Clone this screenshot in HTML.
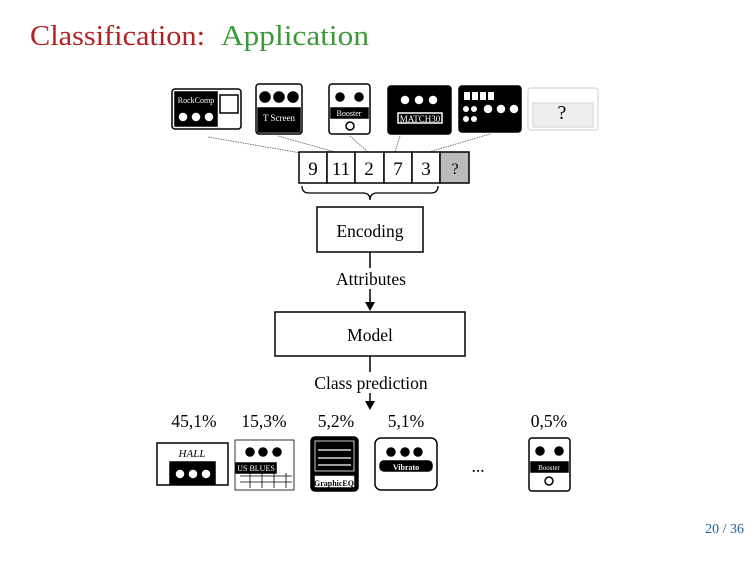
<!DOCTYPE html><html><head><meta charset="utf-8"><style>
html,body{margin:0;padding:0;background:#fff;width:756px;height:567px;overflow:hidden}
svg{display:block}
text{font-family:"Liberation Serif",serif}
</style></head><body>
<svg width="756" height="567" viewBox="0 0 756 567" xmlns="http://www.w3.org/2000/svg">
<text x="30" y="45" font-size="29" fill="#b22222" textLength="175" lengthAdjust="spacingAndGlyphs">Classification:</text>
<text x="221" y="45" font-size="29" fill="#3a9a3a" textLength="148" lengthAdjust="spacingAndGlyphs">Application</text>

<!-- top pedals -->
<g stroke="#000" stroke-width="1.5">
 <rect x="172" y="89" width="69" height="40" rx="3" fill="#fff"/>
 <rect x="175" y="92" width="42" height="34" fill="#000"/>
 <rect x="220" y="95" width="18" height="18" fill="#fff"/>
 <circle cx="183" cy="117" r="5" fill="#fff"/><circle cx="196" cy="117" r="5" fill="#fff"/><circle cx="209" cy="117" r="5" fill="#fff"/>
 <rect x="256" y="84" width="46" height="50" rx="3" fill="#fff"/>
 <rect x="258" y="108" width="42" height="24" fill="#000"/>
 <circle cx="265" cy="97" r="5" fill="#000"/><circle cx="279" cy="97" r="5" fill="#000"/><circle cx="293" cy="97" r="5" fill="#000"/>
 <rect x="329" y="84" width="41" height="50" rx="3" fill="#fff"/>
 <rect x="331" y="108" width="37" height="10" fill="#000"/>
 <circle cx="340" cy="97" r="4" fill="#000"/><circle cx="359" cy="97" r="4" fill="#000"/><circle cx="350" cy="126" r="4" fill="#fff"/>
 <rect x="388" y="86" width="63" height="48" rx="3" fill="#000"/>
 <circle cx="405" cy="100" r="5" fill="#fff"/><circle cx="419" cy="100" r="5" fill="#fff"/><circle cx="433" cy="100" r="5" fill="#fff"/>
 <rect x="398" y="113" width="44" height="10" fill="#000" stroke="#fff"/>
 <rect x="459" y="86" width="62" height="46" rx="3" fill="#000"/>
 <circle cx="488" cy="109" r="5" fill="#fff"/><circle cx="501" cy="109" r="5" fill="#fff"/><circle cx="514" cy="109" r="5" fill="#fff"/>
</g>
<g fill="#fff">
 <rect x="464" y="92" width="6" height="8"/><rect x="472" y="92" width="6" height="8"/><rect x="480" y="92" width="6" height="8"/><rect x="488" y="92" width="6" height="8"/>
 <circle cx="466" cy="109" r="3"/><circle cx="474" cy="109" r="3"/><circle cx="466" cy="119" r="3"/><circle cx="474" cy="119" r="3"/>
</g>
<g stroke="#ddd" stroke-width="1.5" fill="#fff">
 <rect x="528" y="88" width="70" height="42" rx="3"/>
 <rect x="533" y="103" width="60" height="24" fill="#eee"/>
</g>
<text x="562" y="119" font-size="20" text-anchor="middle">?</text>
<text x="196" y="103" font-size="8" fill="#fff" text-anchor="middle" font-family="Liberation Sans">RockComp</text>
<text x="279" y="121" font-size="9" fill="#fff" text-anchor="middle" font-family="Liberation Sans">T Screen</text>
<text x="349" y="116" font-size="8" fill="#fff" text-anchor="middle" font-family="Liberation Sans">Booster</text>
<text x="420" y="122" font-size="9" fill="#fff" text-anchor="middle" font-family="Liberation Sans">MATCH30</text>

<!-- connector lines -->
<g stroke="#555" stroke-width="0.8" stroke-dasharray="1.5,1">
 <line x1="208" y1="137" x2="301" y2="153"/>
 <line x1="278" y1="136" x2="335" y2="152"/>
 <line x1="350" y1="136" x2="368" y2="152"/>
 <line x1="400" y1="136" x2="395" y2="152"/>
 <line x1="490" y1="134" x2="429" y2="152"/>
</g>

<!-- cells -->
<g stroke="#000" stroke-width="1.5" fill="#fff">
 <rect x="299" y="152" width="28" height="31"/>
 <rect x="327" y="152" width="28" height="31"/>
 <rect x="355" y="152" width="29" height="31"/>
 <rect x="384" y="152" width="28" height="31"/>
 <rect x="412" y="152" width="28" height="31"/>
 <rect x="440" y="152" width="29" height="31" fill="#bbb"/>
</g>
<g font-size="19" text-anchor="middle">
 <text x="313" y="175">9</text><text x="341" y="175">11</text><text x="369" y="175">2</text>
 <text x="398" y="175">7</text><text x="426" y="175">3</text><text x="455" y="174" font-size="16">?</text>
</g>
<path d="M302 186 Q302 193 309 193 L363 193 Q370 193 370 200 Q370 193 377 193 L431 193 Q438 193 438 186" fill="none" stroke="#000" stroke-width="1.3"/>

<rect x="317" y="207" width="106" height="45" fill="#fff" stroke="#000" stroke-width="1.5"/>
<text x="370" y="237" font-size="17.5" text-anchor="middle">Encoding</text>
<line x1="370" y1="252" x2="370" y2="268" stroke="#000" stroke-width="1.5"/>
<text x="371" y="285" font-size="17.5" text-anchor="middle">Attributes</text>
<line x1="370" y1="289" x2="370" y2="305" stroke="#000" stroke-width="1.5"/>
<path d="M365 302 L370 311 L375 302 Z" fill="#000"/>

<rect x="275" y="312" width="190" height="44" fill="#fff" stroke="#000" stroke-width="1.5"/>
<text x="370" y="341" font-size="17.5" text-anchor="middle">Model</text>
<line x1="370" y1="356" x2="370" y2="372" stroke="#000" stroke-width="1.5"/>
<text x="371" y="389" font-size="17.5" text-anchor="middle">Class prediction</text>
<line x1="370" y1="393" x2="370" y2="404" stroke="#000" stroke-width="1.5"/>
<path d="M365 401 L370 410 L375 401 Z" fill="#000"/>

<g font-size="17.5" text-anchor="middle">
 <text x="194" y="427">45,1%</text><text x="264" y="427">15,3%</text>
 <text x="336" y="427">5,2%</text><text x="406" y="427">5,1%</text>
 <text x="549" y="427">0,5%</text>
 <text x="478" y="472">...</text>
</g>

<!-- bottom pedals -->
<g stroke="#000" stroke-width="1.5">
 <rect x="157" y="443" width="71" height="42" fill="#fff"/>
 <rect x="170" y="462" width="45" height="22" fill="#000"/>
 <circle cx="180" cy="474" r="5" fill="#fff"/><circle cx="193" cy="474" r="5" fill="#fff"/><circle cx="206" cy="474" r="5" fill="#fff"/>
 <rect x="235" y="440" width="59" height="50" fill="#fff" stroke-width="0.8"/>
 <rect x="236" y="463" width="40" height="10" fill="#000"/>
 <circle cx="250" cy="452" r="4" fill="#000"/><circle cx="263" cy="452" r="4" fill="#000"/><circle cx="277" cy="452" r="4" fill="#000"/>
 <rect x="311" y="437" width="47" height="54" rx="4" fill="#000"/>
 <rect x="315" y="441" width="39" height="30" fill="#000" stroke="#fff" stroke-width="0.8"/>
 <rect x="314" y="475" width="41" height="13" fill="#fff"/>
 <rect x="375" y="438" width="62" height="52" rx="6" fill="#fff"/>
 <rect x="380" y="461" width="52" height="10" rx="4" fill="#000"/>
 <circle cx="391" cy="452" r="4" fill="#000"/><circle cx="405" cy="452" r="4" fill="#000"/><circle cx="418" cy="452" r="4" fill="#000"/>
 <rect x="529" y="438" width="41" height="53" rx="3" fill="#fff"/>
 <rect x="531" y="462" width="37" height="10" fill="#000"/>
 <circle cx="540" cy="451" r="4" fill="#000"/><circle cx="559" cy="451" r="4" fill="#000"/><circle cx="549" cy="481" r="4" fill="#fff"/>
</g>
<g stroke="#000" stroke-width="0.8">
 <line x1="240" y1="476" x2="292" y2="476"/><line x1="240" y1="482" x2="292" y2="482"/>
 <line x1="250" y1="473" x2="250" y2="488"/><line x1="262" y1="473" x2="262" y2="488"/><line x1="274" y1="473" x2="274" y2="488"/><line x1="286" y1="473" x2="286" y2="488"/>
</g>
<g stroke="#fff" stroke-width="1.2">
 <line x1="318" y1="450" x2="351" y2="450"/><line x1="318" y1="458" x2="351" y2="458"/><line x1="318" y1="465" x2="351" y2="465"/>
</g>
<text x="256" y="471" font-size="8" fill="#fff" text-anchor="middle" font-family="Liberation Sans">US BLUES</text>
<text x="192" y="457" font-size="11" text-anchor="middle" font-style="italic">HALL</text>
<text x="406" y="470" font-size="8" fill="#fff" text-anchor="middle" font-family="Liberation Sans" font-weight="bold">Vibrato</text>
<text x="334" y="486" font-size="8" text-anchor="middle" font-family="Liberation Sans" font-weight="bold">GraphicEQ</text>
<text x="549" y="470" font-size="7" fill="#fff" text-anchor="middle" font-family="Liberation Sans">Booster</text>

<text x="744" y="533" font-size="14" fill="#1f5fa0" text-anchor="end">20 / 36</text>
</svg>
</body></html>
